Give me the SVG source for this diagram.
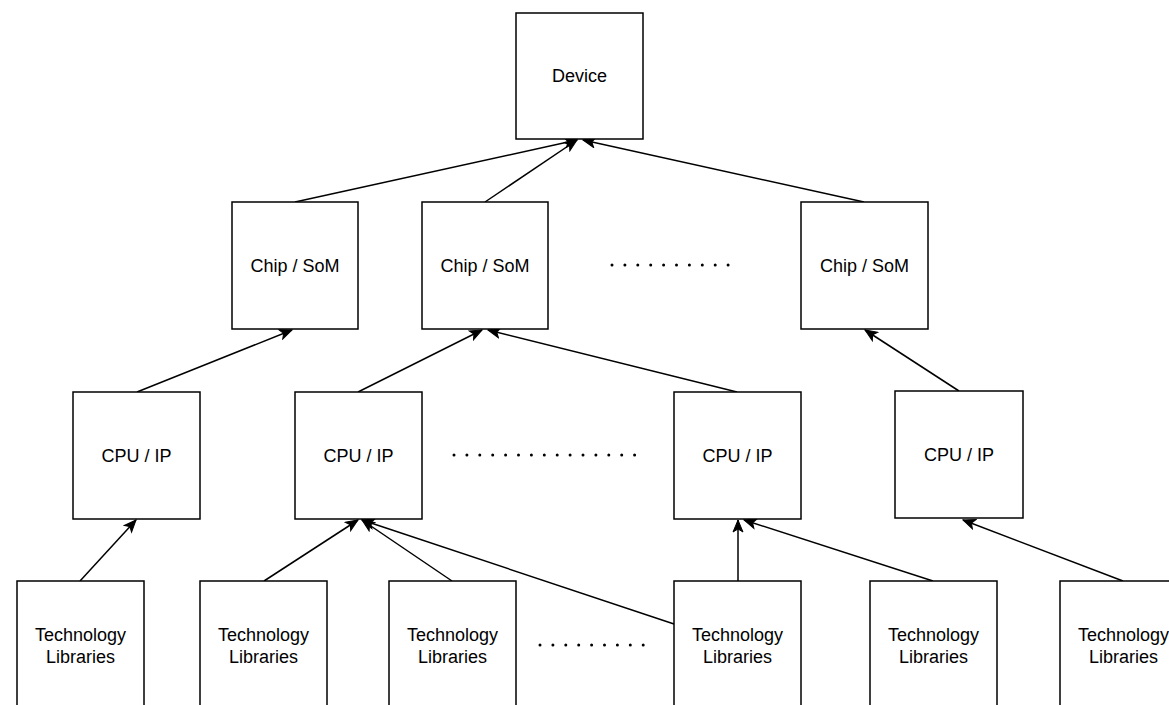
<svg xmlns="http://www.w3.org/2000/svg" width="1169" height="705" viewBox="0 0 1169 705">
  <style>
    .box { fill: #ffffff; stroke: #000000; stroke-width: 1.5; }
    .label { font-family: "Liberation Sans", Arial, Helvetica, sans-serif; font-size: 18px; fill: #000000; text-anchor: middle; }
    .edge { fill: none; stroke: #000000; stroke-width: 1.5; marker-end: url(#arrow); }
    .dots { fill: none; stroke: #000000; stroke-width: 3; stroke-linecap: round; stroke-dasharray: 0 12.9; }
  </style>
  <defs>
    <marker id="arrow" markerUnits="userSpaceOnUse" markerWidth="14" markerHeight="12" viewBox="0 0 14 12" refX="13" refY="6" orient="auto">
      <path d="M1,1 L13,6 L1,11 L4,6 Z" fill="#000000" stroke="#000000" stroke-width="1"/>
    </marker>
  </defs>
  <rect width="1169" height="705" fill="#ffffff"/>

  <!-- connectors: each child points up to its parent -->
  <g id="connectors">
    <line class="edge" x1="295" y1="202" x2="577" y2="140"/>
    <line class="edge" x1="485" y1="202" x2="577" y2="140"/>
    <line class="edge" x1="864" y1="202" x2="583" y2="140"/>
    <line class="edge" x1="137" y1="392" x2="292" y2="330"/>
    <line class="edge" x1="358" y1="392" x2="482" y2="330"/>
    <line class="edge" x1="737" y1="392" x2="488" y2="330"/>
    <line class="edge" x1="959" y1="391" x2="865" y2="330"/>
    <line class="edge" x1="80" y1="581" x2="136" y2="520"/>
    <line class="edge" x1="264" y1="581" x2="358" y2="520"/>
    <line class="edge" x1="452" y1="581" x2="362" y2="520"/>
    <line class="edge" x1="674" y1="624" x2="362" y2="520"/>
    <line class="edge" x1="738" y1="581" x2="738" y2="520"/>
    <line class="edge" x1="933" y1="581" x2="744" y2="520"/>
    <line class="edge" x1="1123" y1="581" x2="963" y2="520"/>
  </g>

  <!-- ellipsis rows -->
  <g id="ellipses">
    <line class="dots" x1="612" y1="265" x2="730" y2="265"/>
    <line class="dots" x1="454" y1="455" x2="636" y2="455"/>
    <line class="dots" x1="540" y1="645" x2="645" y2="645"/>
  </g>

  <g id="device">
    <rect class="box" x="516" y="13" width="127" height="126"/>
    <text class="label" x="579.5" y="82">Device</text>
  </g>

  <g id="chip1">
    <rect class="box" x="232" y="202" width="126" height="127"/>
    <text class="label" x="295" y="272">Chip / SoM</text>
  </g>
  <g id="chip2">
    <rect class="box" x="422" y="202" width="126" height="127"/>
    <text class="label" x="485" y="272">Chip / SoM</text>
  </g>
  <g id="chip3">
    <rect class="box" x="801" y="202" width="127" height="127"/>
    <text class="label" x="864.5" y="272">Chip / SoM</text>
  </g>

  <g id="cpu1">
    <rect class="box" x="73" y="392" width="127" height="127"/>
    <text class="label" x="136.5" y="462">CPU / IP</text>
  </g>
  <g id="cpu2">
    <rect class="box" x="295" y="392" width="127" height="127"/>
    <text class="label" x="358.5" y="462">CPU / IP</text>
  </g>
  <g id="cpu3">
    <rect class="box" x="674" y="392" width="127" height="127"/>
    <text class="label" x="737.5" y="462">CPU / IP</text>
  </g>
  <g id="cpu4">
    <rect class="box" x="895" y="391" width="128" height="127"/>
    <text class="label" x="959" y="461">CPU / IP</text>
  </g>

  <g id="lib1">
    <rect class="box" x="17" y="581" width="127" height="127"/>
    <text class="label" x="80.5" y="641">Technology</text>
    <text class="label" x="80.5" y="663">Libraries</text>
  </g>
  <g id="lib2">
    <rect class="box" x="200" y="581" width="127" height="127"/>
    <text class="label" x="263.5" y="641">Technology</text>
    <text class="label" x="263.5" y="663">Libraries</text>
  </g>
  <g id="lib3">
    <rect class="box" x="389" y="581" width="127" height="127"/>
    <text class="label" x="452.5" y="641">Technology</text>
    <text class="label" x="452.5" y="663">Libraries</text>
  </g>
  <g id="lib4">
    <rect class="box" x="674" y="581" width="127" height="127"/>
    <text class="label" x="737.5" y="641">Technology</text>
    <text class="label" x="737.5" y="663">Libraries</text>
  </g>
  <g id="lib5">
    <rect class="box" x="870" y="581" width="127" height="127"/>
    <text class="label" x="933.5" y="641">Technology</text>
    <text class="label" x="933.5" y="663">Libraries</text>
  </g>
  <g id="lib6">
    <rect class="box" x="1060" y="581" width="127" height="127"/>
    <text class="label" x="1123.5" y="641">Technology</text>
    <text class="label" x="1123.5" y="663">Libraries</text>
  </g>
</svg>
